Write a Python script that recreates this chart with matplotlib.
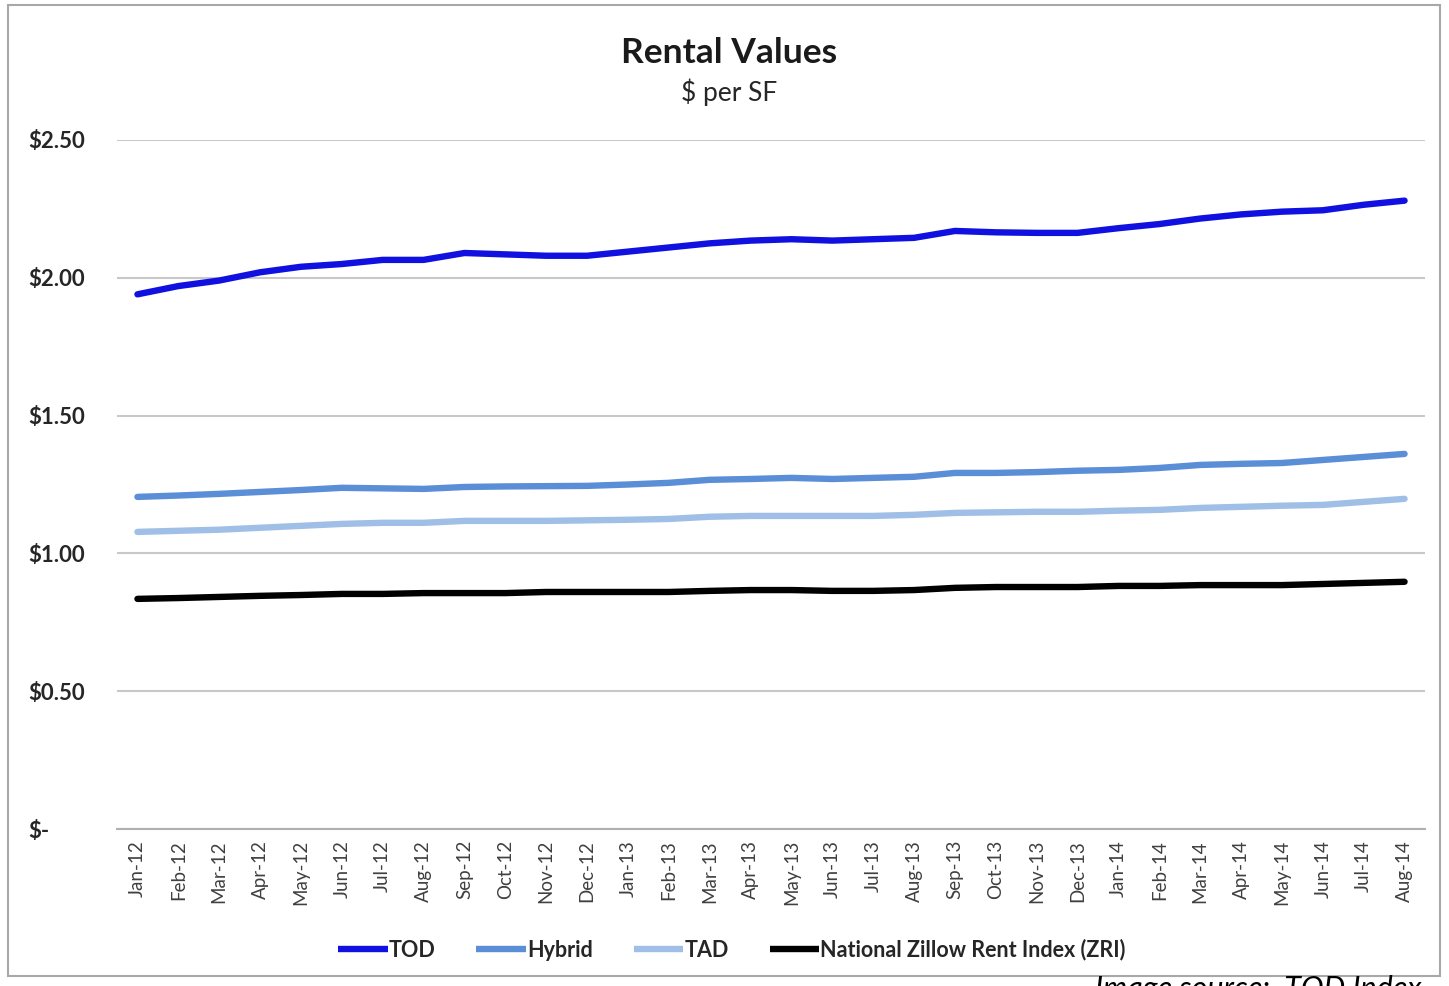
import numpy as np
import matplotlib
matplotlib.use('Agg')
import matplotlib.pyplot as plt
from matplotlib.patches import Rectangle

plt.rcParams['font.family'] = ['Lato', 'DejaVu Sans']

# months Jan-12 .. Aug-14
months = ['Jan-12', 'Feb-12', 'Mar-12', 'Apr-12', 'May-12', 'Jun-12', 'Jul-12', 'Aug-12',
          'Sep-12', 'Oct-12', 'Nov-12', 'Dec-12', 'Jan-13', 'Feb-13', 'Mar-13', 'Apr-13',
          'May-13', 'Jun-13', 'Jul-13', 'Aug-13', 'Sep-13', 'Oct-13', 'Nov-13', 'Dec-13',
          'Jan-14', 'Feb-14', 'Mar-14', 'Apr-14', 'May-14', 'Jun-14', 'Jul-14', 'Aug-14']

tod = [1.94, 1.97, 1.99, 2.02, 2.04, 2.05, 2.065, 2.065, 2.09, 2.085, 2.08, 2.08,
       2.095, 2.11, 2.125, 2.135, 2.14, 2.135, 2.14, 2.145, 2.17, 2.165, 2.163, 2.163,
       2.18, 2.195, 2.215, 2.23, 2.24, 2.245, 2.265, 2.28]
hybrid = [1.205, 1.21, 1.216, 1.223, 1.23, 1.238, 1.236, 1.234, 1.241, 1.243, 1.244, 1.245,
          1.25, 1.256, 1.267, 1.27, 1.274, 1.27, 1.274, 1.278, 1.292, 1.292, 1.295, 1.3,
          1.303, 1.31, 1.321, 1.325, 1.328, 1.339, 1.35, 1.361]
tad = [1.078, 1.082, 1.086, 1.093, 1.100, 1.107, 1.111, 1.111, 1.118, 1.118, 1.118, 1.12,
       1.122, 1.125, 1.133, 1.136, 1.136, 1.136, 1.136, 1.14, 1.147, 1.149, 1.151, 1.151,
       1.155, 1.158, 1.165, 1.169, 1.173, 1.176, 1.187, 1.198]
zri = [0.835, 0.838, 0.842, 0.846, 0.849, 0.853, 0.853, 0.856, 0.856, 0.856, 0.86, 0.86,
       0.86, 0.86, 0.864, 0.867, 0.867, 0.864, 0.864, 0.867, 0.875, 0.878, 0.878, 0.878,
       0.882, 0.882, 0.885, 0.885, 0.885, 0.889, 0.893, 0.897]

series = [
    ('TOD', tod, '#1010e0'),
    ('Hybrid', hybrid, '#5a8ed6'),
    ('TAD', tad, '#a0bfe6'),
    ('National Zillow Rent Index (ZRI)', zri, '#000000'),
]
yticks = [0, 0.5, 1.0, 1.5, 2.0, 2.5]
ytick_labels = ['$-', '$0.50', '$1.00', '$1.50', '$2.00', '$2.50']

fig = plt.figure(figsize=(14.49, 9.86), dpi=100)
ax = fig.add_axes([117/1449, 1 - 829/986, (1425 - 117)/1449, (829 - 140)/986])

x = np.arange(len(months))
for name, vals, col in series:
    ax.plot(x, vals, color=col, lw=4.6, solid_capstyle='round', label=name)

ax.set_xlim(-0.5, len(months) - 0.5)
ax.set_ylim(0, 2.5)
ax.set_yticks(yticks)
ax.set_yticklabels(ytick_labels, fontsize=16, fontweight='bold', color='#262626')
ax.set_xticks(x)
ax.set_xticklabels(months, rotation=90, fontsize=13.5, color='#404040')
ax.tick_params(length=0)
ax.tick_params(axis='x', pad=8)
for lab in ax.get_yticklabels():
    lab.set_horizontalalignment('left')
ax.tick_params(axis='y', pad=64)

ax.grid(axis='y', color='#c8c8c8', lw=1.5)
ax.set_axisbelow(True)
for s in ['top', 'right', 'left']:
    ax.spines[s].set_visible(False)
ax.spines['bottom'].set_color('#b0b0b0')
ax.spines['bottom'].set_linewidth(1.5)

fig.text(0.503, 1 - 53/986, 'Rental Values', ha='center', va='center',
         fontsize=25.5, fontweight='bold', color='#1a1a1a')
fig.text(0.503, 1 - 92/986, '$ per SF', ha='center', va='center',
         fontsize=19, color='#262626')

leg = fig.legend(loc='center', bbox_to_anchor=(0.505, 1 - 950/986), ncol=4, frameon=False,
                 handlelength=2.3, handletextpad=0.05, columnspacing=1.9,
                 prop={'size': 15.5, 'weight': 'bold'}, labelcolor='#262626')
for h in leg.get_lines():
    h.set_solid_capstyle('butt')

# source note, cut off at the bottom edge like the original
fig.text(1095/1449, 1 - 975/986, 'Image source:  TOD Index', ha='left', va='top',
         fontsize=22, style='italic', color='#000000')

fig.patches.append(Rectangle((8/1449, 1 - 976/986), (1440 - 8)/1449, (976 - 5)/986,
                             transform=fig.transFigure, fill=False,
                             edgecolor='#a8a8a8', lw=1.5))

fig.savefig('out.png', dpi=100)
